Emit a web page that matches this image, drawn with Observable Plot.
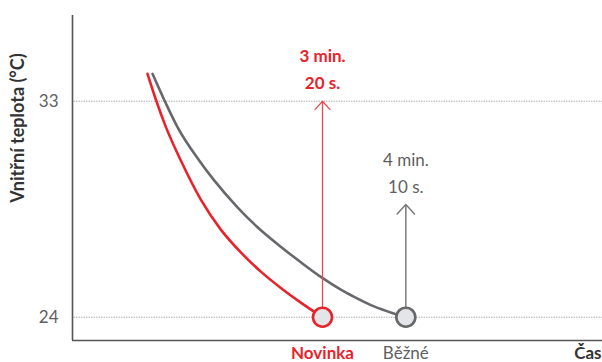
<!DOCTYPE html>
<html>
<head>
<meta charset="utf-8">
<script src="https://cdn.jsdelivr.net/npm/d3@7"></script>
<script src="https://cdn.jsdelivr.net/npm/@observablehq/plot@0.6"></script>
<style>
  html, body { margin: 0; padding: 0; background: #fff; }
  #chart svg { display: block; font-family: Lato, "Open Sans", sans-serif; }
</style>
</head>
<body>
<div id="chart"></div>
<script>
// Time in seconds, inner temperature in °C
const novinkaTime = [95, 100, 106, 115, 127, 139, 151, 163, 175, 187, 200];
const novinkaTemp = [34.14, 33.07, 31.93, 30.53, 28.9, 27.65, 26.7, 25.9, 25.22, 24.61, 24.0];
const bezneTime = [98, 105.4, 113, 126, 135, 149, 161, 174, 187, 199, 211, 219, 230.9, 243, 250];
const bezneTemp = [34.14, 33.0, 31.92, 30.53, 29.7, 28.58, 27.75, 26.99, 26.29, 25.68, 25.15, 24.85, 24.45, 24.15, 24.0];

const seriesNames = ["Novinka", "Běžné"];
const finishTimes = [200, 250];          // 3 min 20 s, 4 min 10 s
const finishTemp = 24;
const arrowTops = [33, 28.7];
const durationLabels = ["3 min.\n20 s.", "4 min.\n10 s."];
const yTicks = [24, 33];
const yLabel = "Vnitřní teplota (°C)";
const xLabel = "Čas";

const RED = "#e8232b";
const GRAY = "#68686c";

const novinka = novinkaTime.map((t, i) => ({t, v: novinkaTemp[i]}));
const bezne = bezneTime.map((t, i) => ({t, v: bezneTemp[i]}));
const finish = finishTimes.map((t, i) => ({t, v: finishTemp, top: arrowTops[i], label: durationLabels[i], name: seriesNames[i]}));

const chart = Plot.plot({
  width: 602,
  height: 362,
  marginLeft: 72,
  marginRight: 0,
  marginTop: 15,
  marginBottom: 22,
  style: {fontFamily: "Lato, 'Open Sans', sans-serif", background: "#fff"},
  x: {domain: [50, 368], axis: null},
  y: {domain: [23.03, 36.57]},
  marks: [
    Plot.ruleY(yTicks, {stroke: "#9a9a9a", strokeWidth: 1, strokeDasharray: "1.2,1.3", x1: 51, x2: 368}),
    Plot.axisY({ticks: yTicks, tickSize: 0, tickPadding: 14, fontSize: 17, fill: "#5f5f5f", label: null}),
    Plot.text([yLabel], {frameAnchor: "left", textAnchor: "middle", rotate: -90, dx: -54, dy: -50, fontSize: 18, letterSpacing: "0.5px", fontWeight: "bold", fill: "#333"}),
    Plot.ruleX([50], {stroke: "#555", strokeWidth: 1.6}),
    Plot.ruleY([23.03], {stroke: "#555", strokeWidth: 1.6}),
    Plot.line(novinka, {x: "t", y: "v", stroke: RED, strokeWidth: 2.6, curve: "monotone-x"}),
    Plot.line(bezne, {x: "t", y: "v", stroke: GRAY, strokeWidth: 2.6, curve: "monotone-x"}),
    Plot.arrow([finish[0]], {x1: "t", x2: "t", y1: "v", y2: "top", stroke: "#ee4a50", strokeWidth: 1.3, headLength: 13, headAngle: 84, insetStart: 0}),
    Plot.arrow([finish[1]], {x1: "t", x2: "t", y1: "v", y2: "top", stroke: "#7a7a7d", strokeWidth: 1.5, headLength: 13, headAngle: 84, insetStart: 0}),
    Plot.dot([finish[0]], {x: "t", y: "v", r: 9.5, fill: "#e4e5e9", stroke: RED, strokeWidth: 2.6}),
    Plot.dot([finish[1]], {x: "t", y: "v", r: 9.5, fill: "#e4e5e9", stroke: GRAY, strokeWidth: 2.6}),
    Plot.text([finish[0]], {x: "t", y: "top", text: "label", lineAnchor: "bottom", lineHeight: 1.6, dy: -12, fontSize: 17, fontWeight: "bold", fill: RED}),
    Plot.text([finish[1]], {x: "t", y: "top", text: "label", lineAnchor: "bottom", lineHeight: 1.6, dy: -11, fontSize: 17, fill: "#5f5f5f"}),
    Plot.text([finish[0]], {x: "t", frameAnchor: "bottom", text: "name", lineAnchor: "bottom", dy: 18, fontSize: 17, fontWeight: "bold", fill: RED}),
    Plot.text([finish[1]], {x: "t", frameAnchor: "bottom", text: "name", lineAnchor: "bottom", dy: 18, fontSize: 17, fill: "#5f5f5f"}),
    Plot.text([xLabel], {frameAnchor: "bottom-right", textAnchor: "end", lineAnchor: "bottom", dy: 18, dx: -1, fontSize: 17, fontWeight: "bold", fill: "#333"})
  ]
});
document.getElementById("chart").appendChild(chart);
</script>
</body>
</html>
